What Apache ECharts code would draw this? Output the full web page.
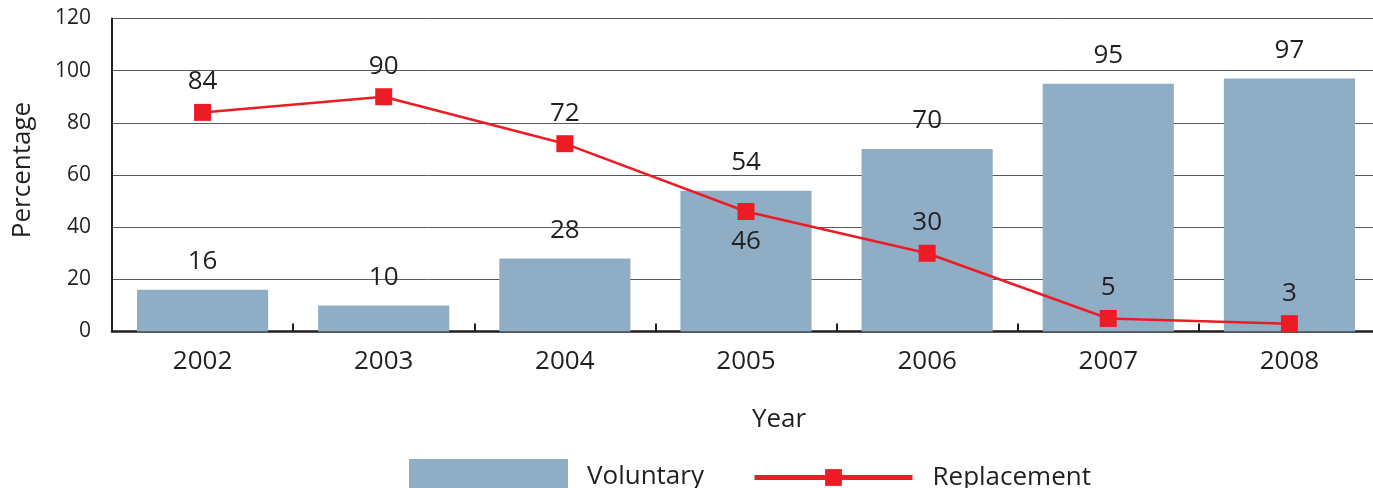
<!DOCTYPE html>
<html>
<head>
<meta charset="utf-8">
<title>Voluntary vs Replacement</title>
<script src="https://cdn.jsdelivr.net/npm/echarts@6/dist/echarts.min.js"></script>
<style>
  html, body { margin: 0; padding: 0; background: #ffffff; }
  #chart { width: 1373px; height: 488px; }
</style>
</head>
<body>
<div id="chart"></div>
<script>
// Yearly shares, in percent
const years = ['2002', '2003', '2004', '2005', '2006', '2007', '2008'];
const voluntary = [16, 10, 28, 54, 70, 95, 97];
const replacement = [84, 90, 72, 46, 30, 5, 3];
// Replacement points whose value label sits under the marker
const labelBelow = ['2005'];

const TEXT = '#231f20';
const FONT = '"Open Sans", "Noto Sans", sans-serif';

const replacementData = replacement.map((v, i) => (
  labelBelow.includes(years[i])
    ? { value: v, label: { position: 'bottom' } }
    : v
));

const chart = echarts.init(document.getElementById('chart'), null, { renderer: 'canvas' });

chart.setOption({
  animation: false,
  backgroundColor: '#ffffff',
  textStyle: { fontFamily: FONT, color: TEXT },
  grid: {
    left: 112, top: 18.5, width: 1268, bottom: 156.5,
    containLabel: false, outerBoundsMode: 'none'
  },
  legend: [
    {
      data: [{ name: 'Voluntary', icon: 'rect' }],
      left: 409, top: 459, padding: 0,
      itemWidth: 159, itemHeight: 35,
      textStyle: { fontFamily: FONT, fontSize: 26, color: TEXT, padding: [0, 0, 0, 14] }
    },
    {
      data: ['Replacement'],
      left: 752, top: 464.5, padding: 0,
      itemWidth: 158, itemHeight: 21,
      lineStyle: { width: 5 },
      textStyle: { fontFamily: FONT, fontSize: 26, color: TEXT, padding: [0, 0, 0, 15] }
    }
  ],
  xAxis: {
    type: 'category',
    data: years,
    boundaryGap: true,
    name: 'Year',
    nameLocation: 'middle',
    nameGap: 75,
    // the axis title sits a little right of the plot centre
    nameTextStyle: { fontFamily: FONT, fontSize: 26, color: TEXT, padding: [0, 0, 0, 66] },
    axisLine: { show: true, lineStyle: { color: TEXT, width: 2.5 } },
    axisTick: { show: true, inside: true, length: 8, lineStyle: { color: TEXT, width: 2 } },
    axisLabel: { fontFamily: FONT, fontSize: 26, color: TEXT, margin: 17 },
    splitLine: { show: false }
  },
  yAxis: {
    type: 'value',
    min: 0, max: 120, interval: 20,
    name: 'Percentage',
    nameLocation: 'middle',
    nameGap: 76,
    nameTextStyle: { fontFamily: FONT, fontSize: 26, color: TEXT, padding: [0, 0, 0, 10] },
    axisLine: { show: true, lineStyle: { color: TEXT, width: 2 } },
    axisTick: { show: false },
    axisLabel: { fontFamily: FONT, fontSize: 21, color: TEXT, margin: 21 },
    splitLine: { show: true, lineStyle: { color: '#5a5a5c', width: 1 } }
  },
  series: [
    {
      name: 'Voluntary',
      type: 'bar',
      data: voluntary,
      barCategoryGap: '27.6%',
      itemStyle: { color: '#8faec6' },
      label: {
        show: true, position: 'top', distance: 15,
        fontFamily: FONT, fontSize: 26, color: TEXT
      },
      z: 2
    },
    {
      name: 'Replacement',
      type: 'line',
      data: replacementData,
      symbol: 'rect',
      symbolSize: 17,
      lineStyle: { color: '#ed1c24', width: 2.5 },
      itemStyle: { color: '#ed1c24' },
      label: {
        show: true, position: 'top', distance: 9,
        fontFamily: FONT, fontSize: 26, color: TEXT
      },
      z: 3
    }
  ]
});
</script>
</body>
</html>
